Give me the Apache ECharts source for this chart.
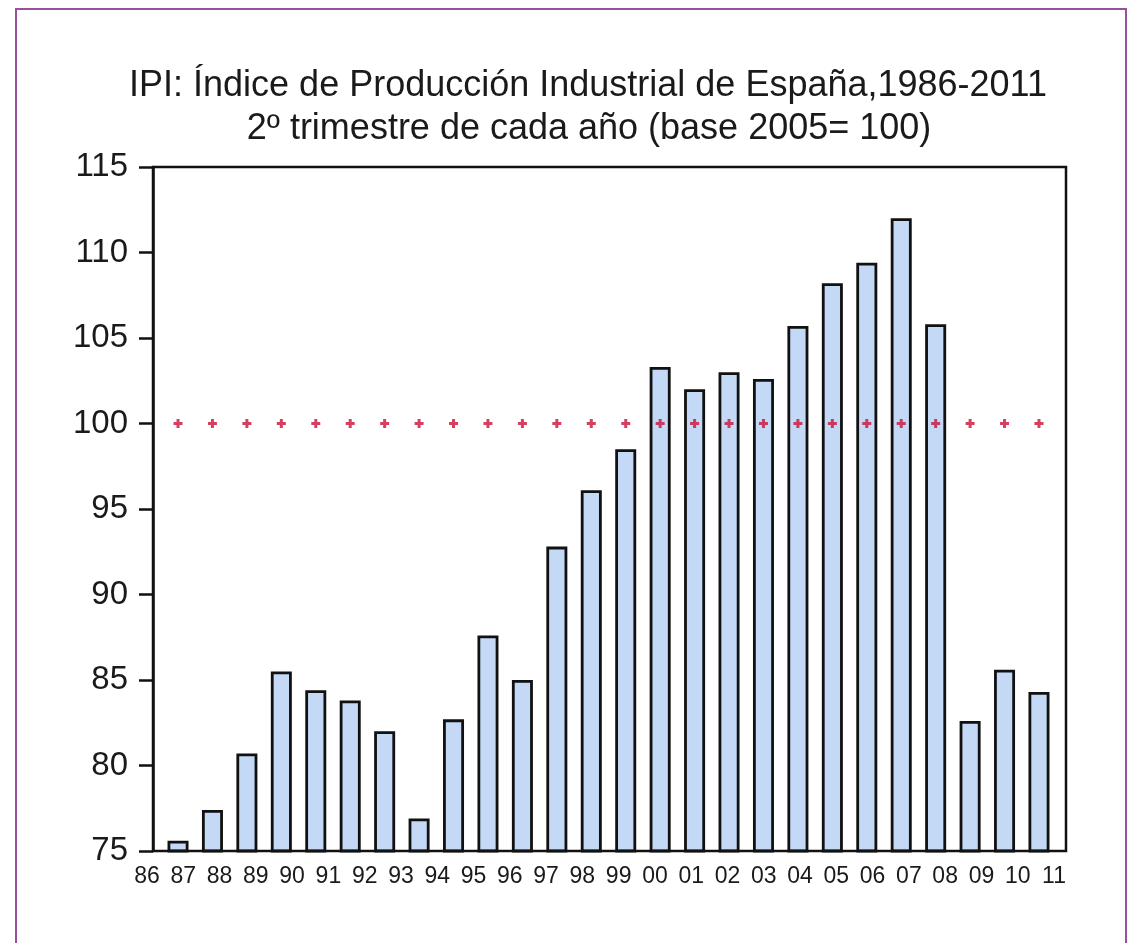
<!DOCTYPE html>
<html>
<head>
<meta charset="utf-8">
<script src="https://cdn.jsdelivr.net/npm/echarts@6/dist/echarts.min.js"></script>
<style>
html,body{margin:0;padding:0;background:#fff;}
#chart{width:1128px;height:943px;}
</style>
</head>
<body>
<div id="chart"></div>
<script>
// ---- data ----
const years = ['1986','1987','1988','1989','1990','1991','1992','1993','1994','1995','1996','1997','1998','1999','2000','2001','2002','2003','2004','2005','2006','2007','2008','2009','2010','2011'];
const tickLabels = ['86','87','88','89','90','91','92','93','94','95','96','97','98','99','00','01','02','03','04','05','06','07','08','09','10','11'];
const ipi = [75.6, 77.4, 80.7, 85.5, 84.4, 83.8, 82.0, 76.9, 82.7, 87.6, 85.0, 92.8, 96.1, 98.5, 103.3, 102.0, 103.0, 102.6, 105.7, 108.2, 109.4, 112.0, 105.8, 82.6, 85.6, 84.3];
const baseLine = [100,100,100,100,100,100,100,100,100,100,100,100,100,100,100,100,100,100,100,100,100,100,100,100,100,100];
const yMin = 75, yMax = 115, yStep = 5;
const titleLine1 = 'IPI: Índice de Producción Industrial de España,1986-2011';
const titleLine2 = '2º trimestre de cada año (base 2005= 100)';

// ---- chart ----
const FONT = '"Liberation Sans", Arial, sans-serif';
const chart = echarts.init(document.getElementById('chart'), null, {renderer: 'canvas'});
const PLOT_TOP = 167, PLOT_H = 684;
const option = {
  backgroundColor: '#ffffff',
  animation: false,
  graphic: [
    {type: 'rect', silent: true, z: 100,
     shape: {x: 16, y: 9, width: 1110, height: 1000},
     style: {fill: 'none', stroke: '#9a4f9c', lineWidth: 2}},
    {type: 'text', x: 588, y: 86, z: 100,
     style: {text: titleLine1, font: '36px ' + FONT, fill: '#1a1a1a',
             textAlign: 'center', align: 'center', textVerticalAlign: 'middle', verticalAlign: 'middle'}},
    {type: 'text', x: 589, y: 129, z: 100,
     style: {text: titleLine2, font: '36px ' + FONT, fill: '#1a1a1a',
             textAlign: 'center', align: 'center', textVerticalAlign: 'middle', verticalAlign: 'middle'}}
  ],
  grid: [
    {left: 153, top: PLOT_TOP, width: 913, height: PLOT_H, show: true,
     borderColor: '#111', borderWidth: 2.5, backgroundColor: 'transparent', z: 5},
    {left: 160.8, top: PLOT_TOP, width: 895.4, height: PLOT_H},
    {left: 147, top: PLOT_TOP, width: 907, height: PLOT_H}
  ],
  xAxis: [
    {gridIndex: 0, type: 'category', data: years, show: false},
    {gridIndex: 1, type: 'category', data: years, show: false, boundaryGap: true},
    {gridIndex: 2, type: 'category', data: tickLabels, boundaryGap: false,
     axisLine: {show: false}, axisTick: {show: false}, splitLine: {show: false},
     axisLabel: {interval: 0, margin: 14, fontSize: 23, color: '#1a1a1a', fontFamily: FONT}}
  ],
  yAxis: [
    {gridIndex: 0, type: 'value', min: yMin, max: yMax, interval: yStep,
     axisLine: {show: true, lineStyle: {color: '#111', width: 2.5}},
     axisTick: {show: true, inside: false, length: 14, lineStyle: {color: '#111', width: 2.5}},
     splitLine: {show: false},
     axisLabel: {margin: 25, fontSize: 33, color: '#1a1a1a', fontFamily: FONT}},
    {gridIndex: 1, type: 'value', min: yMin, max: yMax, show: false, splitLine: {show: false}},
    {gridIndex: 2, type: 'value', min: yMin, max: yMax, show: false, splitLine: {show: false}}
  ],
  series: [
    {type: 'bar', xAxisIndex: 1, yAxisIndex: 1, data: ipi, barWidth: 21,
     itemStyle: {color: '#c4d9f6', borderColor: '#111', borderWidth: 2.8}, z: 2},
    {type: 'scatter', xAxisIndex: 1, yAxisIndex: 1, data: baseLine,
     symbol: 'path://M3,0h3v9h-3z M0,3h9v3h-9z', symbolSize: 9,
     itemStyle: {color: '#cc1038'}, z: 10}
  ]
};
chart.setOption(option);
</script>
</body>
</html>
